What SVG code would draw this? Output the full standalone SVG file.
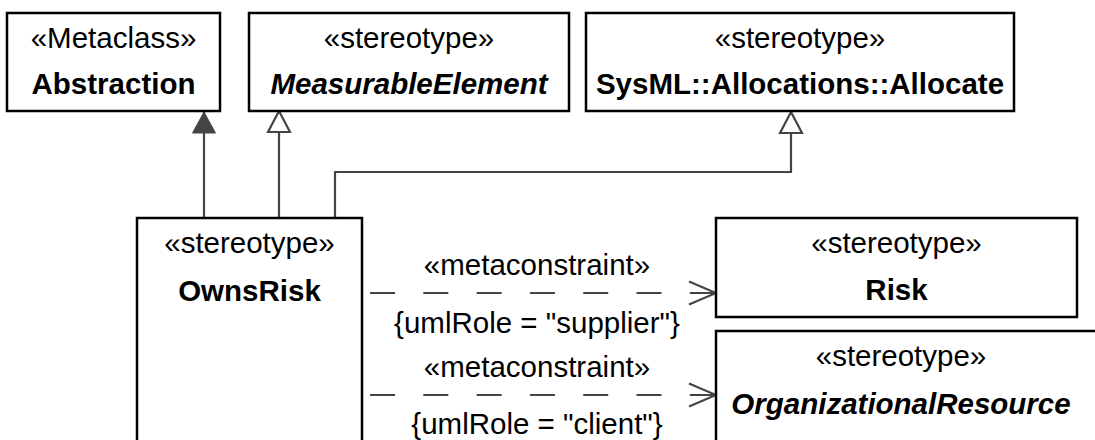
<svg xmlns="http://www.w3.org/2000/svg" width="1095" height="440" viewBox="0 0 1095 440">
<style>
.box{fill:#fff;stroke:#000;stroke-width:2.5}
.t{font-family:"Liberation Sans",Arial,sans-serif;font-size:29.5px;fill:#000;text-anchor:middle}
.b{font-weight:bold}
.i{font-style:italic}
.c{fill:none;stroke:#444;stroke-width:2.2}
.d{stroke-dasharray:25 28.3}
</style>
<defs>
<marker id="gen" markerUnits="userSpaceOnUse" viewBox="-1 -13 24 26" refX="21" refY="0" markerWidth="24" markerHeight="26" orient="auto">
<path d="M0,-11 L21,0 L0,11 Z" fill="#fff" stroke="#444" stroke-width="2.2"/>
</marker>
<marker id="ext" markerUnits="userSpaceOnUse" viewBox="-1 -13 24 26" refX="21" refY="0" markerWidth="24" markerHeight="26" orient="auto">
<path d="M0,-11.5 L21,0 L0,11.5 Z" fill="#444" stroke="#444" stroke-width="1"/>
</marker>
<marker id="open" markerUnits="userSpaceOnUse" viewBox="-2 -14 31 28" refX="27" refY="0" markerWidth="31" markerHeight="28" orient="auto">
<path d="M0,-11.5 L27,0 L0,11.5" fill="none" stroke="#444" stroke-width="2.2" stroke-dasharray="none"/>
</marker>
</defs>
<g id="connectors">
<path class="c" d="M204,218 V112" marker-end="url(#ext)"/>
<path class="c" d="M279,218 V111" marker-end="url(#gen)"/>
<path class="c" d="M335,218 V172 H791 V112" marker-end="url(#gen)"/>
<path class="c d" d="M370,293 H716" marker-end="url(#open)"/>
<path class="c d" d="M370,395 H716" marker-end="url(#open)"/>
<text class="t" x="537" y="275">«metaconstraint»</text>
<text class="t" x="537" y="333">{umlRole = "supplier"}</text>
<text class="t" x="537" y="377">«metaconstraint»</text>
<text class="t" x="537" y="434">{umlRole = "client"}</text>
</g>
<g id="abstraction">
<rect class="box" x="7" y="13" width="213" height="98"/>
<text class="t" x="113.5" y="48">«Metaclass»</text>
<text class="t b" x="113.5" y="94">Abstraction</text>
</g>
<g id="measurableElement">
<rect class="box" x="249" y="13" width="320" height="98"/>
<text class="t" x="409" y="48">«stereotype»</text>
<text class="t b i" x="409" y="94">MeasurableElement</text>
</g>
<g id="allocate">
<rect class="box" x="586" y="13" width="428" height="98"/>
<text class="t" x="800" y="48">«stereotype»</text>
<text class="t b" x="800" y="94">SysML::Allocations::Allocate</text>
</g>
<g id="ownsRisk">
<rect class="box" x="137" y="218" width="225" height="240"/>
<text class="t" x="249.5" y="253">«stereotype»</text>
<text class="t b" x="249.5" y="301">OwnsRisk</text>
</g>
<g id="risk">
<rect class="box" x="716" y="218" width="361" height="99"/>
<text class="t" x="896.5" y="253">«stereotype»</text>
<text class="t b" x="896.5" y="300">Risk</text>
</g>
<g id="organizationalResource">
<rect class="box" x="716" y="331" width="390" height="130"/>
<text class="t" x="901" y="366">«stereotype»</text>
<text class="t b i" x="901" y="414">OrganizationalResource</text>
</g>
</svg>
